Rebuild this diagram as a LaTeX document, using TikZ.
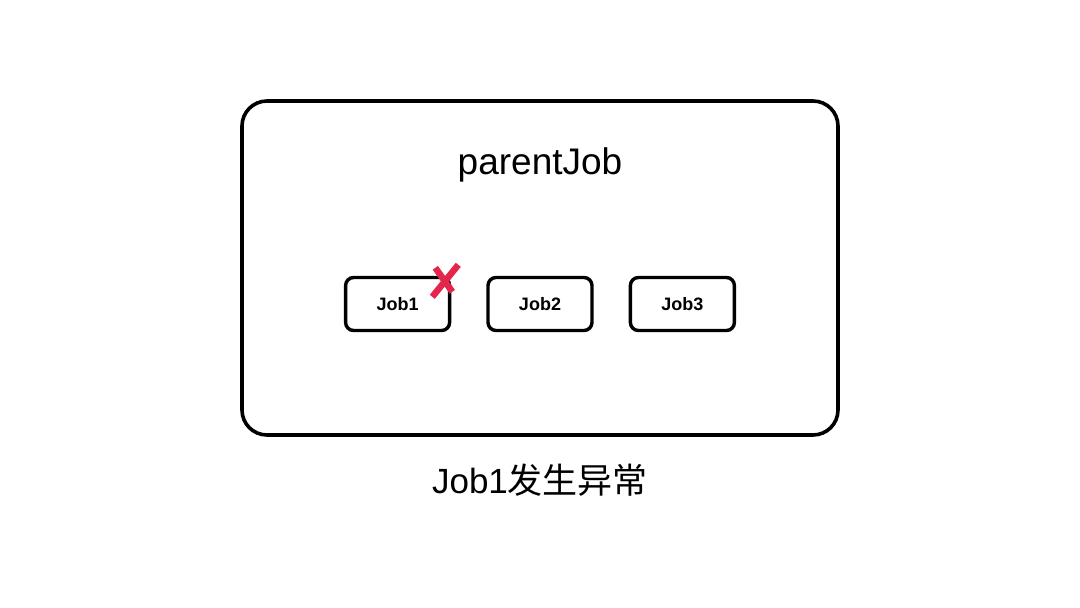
\documentclass[tikz,border=0pt]{standalone}
\usepackage{fontspec}
\setmainfont{Liberation Sans}
\newfontfamily\cjk{Noto Sans CJK SC}
\usetikzlibrary{positioning}
\usetikzlibrary{calc}
\definecolor{failred}{RGB}{226,38,76}

\begin{document}
\begin{tikzpicture}
  [x=1pt,y=1pt,node distance=35pt,
   parent box/.style={rectangle,rounded corners=25pt,draw,line width=3.6pt,minimum width=596pt,minimum height=334pt},
   job node/.style={rectangle,rounded corners=8pt,draw,line width=3.4pt,minimum width=104pt,minimum height=53pt,font=\bfseries\fontsize{18}{20}\selectfont},
   cross/.style={failred,line width=6.5pt}]
  \useasboundingbox (0,0) rectangle (1080,-608);
  \node[parent box]  (ParentJob)                    at (540,-268) {};
  \node[anchor=base,font=\fontsize{37}{40}\selectfont] (ParentLabel) at (540,-174) {parentJob};
  \node[job node]    (Job2)                         at (540,-304) {Job2};
  \node[job node]    (Job1)  [left= of Job2]        {Job1};
  \node[job node]    (Job3)  [right= of Job2]       {Job3};
  \node[anchor=base,font=\fontsize{35}{40}\selectfont] (Caption) at (540,-493) {Job1{\cjk 发生异常}};
  % red cross on Job1
  \coordinate (CrossAt) at (Job1.north east);
  \draw[cross] ($(CrossAt)+(-19,-21)$) -- ($(CrossAt)+(7,11)$);
  \draw[cross] ($(CrossAt)+(-16,8)$) -- ($(CrossAt)+(1,-16)$);
\end{tikzpicture}
\end{document}
